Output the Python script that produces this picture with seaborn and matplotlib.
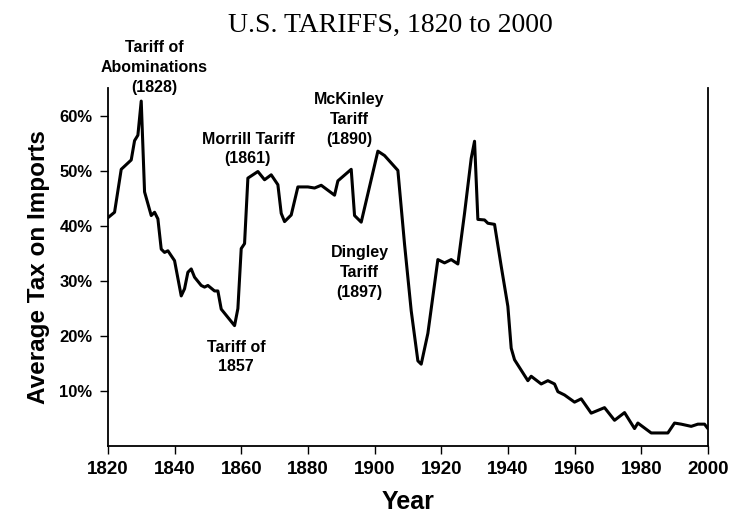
import pandas as pd
import seaborn as sns
import matplotlib.pyplot as plt
from matplotlib.ticker import FuncFormatter

# data (year, average tax on imports in %)
years = [1820, 1822, 1824, 1827, 1828, 1829, 1830, 1831, 1833, 1834, 1835, 1836,
         1837, 1838, 1840, 1842, 1843, 1844, 1845, 1846, 1848, 1849, 1850, 1852,
         1853, 1854, 1856, 1858, 1859, 1860, 1861, 1862, 1865, 1867, 1869, 1871,
         1872, 1873, 1875, 1877, 1880, 1882, 1884, 1888, 1889, 1893, 1894, 1896,
         1901, 1903, 1907, 1909, 1911, 1913, 1914, 1916, 1919, 1921, 1923, 1925,
         1927, 1929, 1930, 1931, 1933, 1934, 1936, 1938, 1940, 1941, 1942, 1946,
         1947, 1950, 1952, 1954, 1955, 1957, 1960, 1962, 1965, 1969, 1972, 1975,
         1978, 1979, 1983, 1988, 1990, 1992, 1995, 1997, 1999, 2000]
tax = [41.5, 42.5, 50.3, 52.0, 55.5, 56.5, 62.7, 46.2, 41.9, 42.5, 41.3, 35.8,
       35.2, 35.5, 33.7, 27.3, 28.6, 31.6, 32.2, 30.7, 29.2, 28.9, 29.2, 28.2,
       28.2, 24.9, 23.4, 21.9, 25.0, 35.9, 36.8, 48.7, 49.9, 48.4, 49.3, 47.5,
       42.3, 40.8, 42.0, 47.1, 47.1, 46.9, 47.4, 45.6, 48.2, 50.3, 41.9, 40.7,
       53.6, 52.8, 50.1, 36.7, 24.6, 15.5, 14.9, 20.5, 33.9, 33.3, 33.9, 33.1,
       42.3, 52.3, 55.4, 41.2, 41.1, 40.5, 40.3, 32.7, 25.4, 17.8, 15.7, 11.9,
       12.7, 11.3, 11.9, 11.3, 9.9, 9.3, 8.0, 8.6, 6.0, 7.0, 4.7, 6.1,
       3.2, 4.2, 2.4, 2.4, 4.2, 4.0, 3.6, 4.0, 4.0, 3.2]

x_ticks = list(range(1820, 2001, 20))
y_ticks = [10, 20, 30, 40, 50, 60]

# annotations: text, year, value (placed in data units)
notes = [
    ("Tariff of\nAbominations\n(1828)", 1834, 68.8),
    ("Morrill Tariff\n(1861)", 1862, 54.0),
    ("McKinley\nTariff\n(1890)", 1892.5, 59.4),
    ("Dingley\nTariff\n(1897)", 1895.5, 31.5),
    ("Tariff of\n1857", 1858.5, 16.2),
]

df = pd.DataFrame({"year": years, "tax": tax})

sns.set_style("ticks")
plt.rcParams['font.family'] = ['Liberation Sans', 'DejaVu Sans']
plt.rcParams['text.color'] = 'black'
plt.rcParams['axes.labelcolor'] = 'black'
plt.rcParams['xtick.color'] = 'black'
plt.rcParams['ytick.color'] = 'black'

fig = plt.figure(figsize=(7.29, 5.17), dpi=100)
ax = fig.add_axes([0.148, 0.137, 0.823, 0.692])

sns.lineplot(data=df, x="year", y="tax", color="black", linewidth=2.2, ax=ax)

ax.set_xlim(1820, 2000)
ax.set_ylim(0, 65)
ax.set_xticks(x_ticks)
ax.set_yticks(y_ticks)
ax.yaxis.set_major_formatter(FuncFormatter(lambda v, _: f"{v:.0f}%"))
for lab in ax.get_xticklabels():
    lab.set_fontsize(13.5)
    lab.set_fontweight("bold")
for lab in ax.get_yticklabels():
    lab.set_fontsize(12)
    lab.set_fontweight("bold")
ax.tick_params(axis="both", direction="out", length=6, width=1.0, pad=5)

ax.spines["top"].set_visible(False)
for s in ["left", "bottom", "right"]:
    ax.spines[s].set_linewidth(1.3)
    ax.spines[s].set_color("black")

ax.set_xlabel("Year", fontsize=18, fontweight="bold", labelpad=8)
ax.set_ylabel("Average Tax on Imports", fontsize=17.5, fontweight="bold", labelpad=7)

for txt, xv, yv in notes:
    ax.text(xv, yv, txt, ha="center", va="center", fontsize=11.5, fontweight="bold",
            linespacing=1.4, clip_on=False)

fig.text(390 / 729, 1 - 25 / 517, "U.S. TARIFFS, 1820 to 2000", ha="center", va="center",
         fontsize=20, family=['Liberation Serif', 'DejaVu Serif'])

fig.savefig("out.png", dpi=100)
